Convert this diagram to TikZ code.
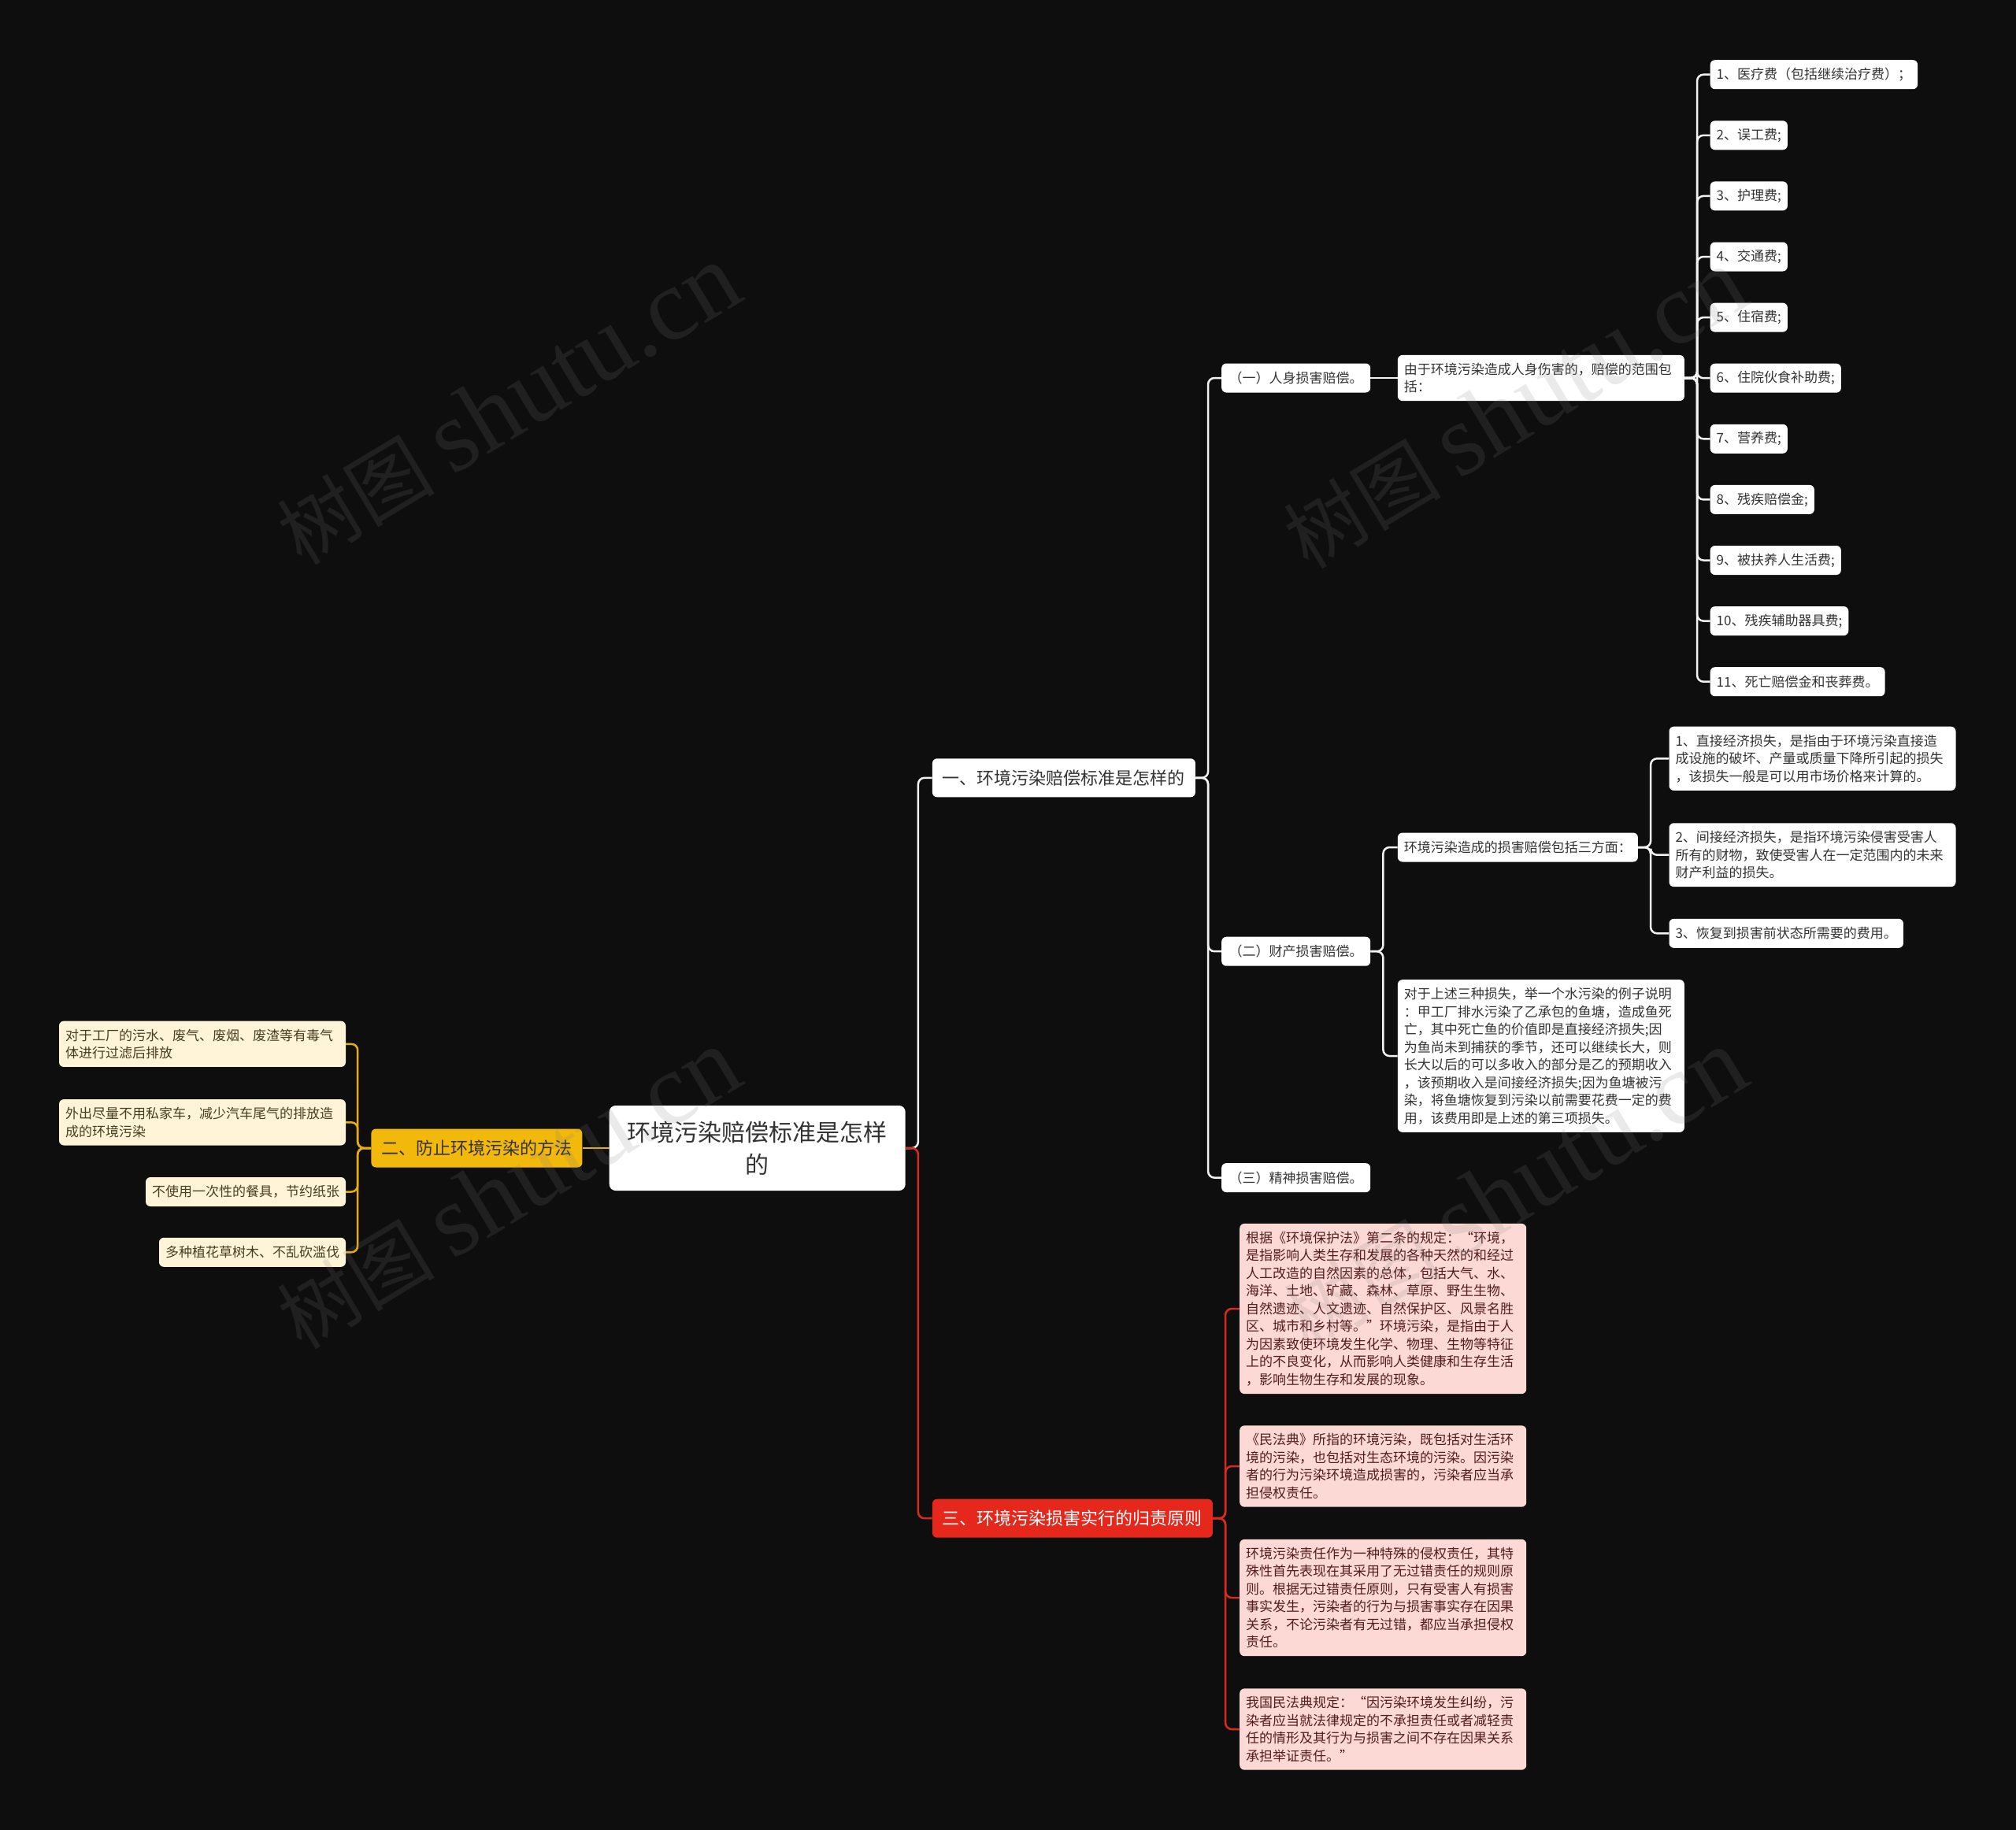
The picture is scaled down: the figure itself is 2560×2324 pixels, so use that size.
\documentclass[tikz,border=0pt]{standalone}
\usepackage{fontspec}
\setmainfont{Noto Sans CJK SC}
\newfontfamily\wmfont{Liberation Serif}
\usetikzlibrary{positioning}

\definecolor{bgdark}{HTML}{0E0E0E}
\definecolor{txtdark}{HTML}{333333}
\definecolor{linew}{HTML}{F2F2F2}
\definecolor{gold}{HTML}{F2B80C}
\definecolor{goldline}{HTML}{E8AE10}
\definecolor{cream}{HTML}{FFF3D8}
\definecolor{creamtxt}{HTML}{4A3D1F}
\definecolor{redfill}{HTML}{E5281B}
\definecolor{redline}{HTML}{D92A1E}
\definecolor{pink}{HTML}{FCD9D5}
\definecolor{pinktxt}{HTML}{521D1D}

\begin{document}
\begin{tikzpicture}[x=1pt, y=-1pt,
    base/.style={rounded corners=6pt, inner xsep=8pt, inner ysep=0pt, text=txtdark, font=\fontsize{17}{22.5}\selectfont},
    leaf/.style={base, fill=white, minimum height=37pt, anchor=west},
    note/.style={base, fill=white, text width=348pt, align=left, inner ysep=10pt, anchor=west},
    subbox/.style={leaf, inner xsep=9.5pt},
    branch/.style={rounded corners=6pt, inner xsep=13pt, minimum height=49pt, font=\fontsize{22}{26}\selectfont},
    rootbox/.style={fill=white, rounded corners=8pt, text=txtdark, align=center, minimum width=376pt, minimum height=108pt, font=\fontsize{30}{41}\selectfont},
    conn/.style={draw=linew, line width=2.5pt, rounded corners=8pt},
    connr/.style={conn, draw=redline},
    conny/.style={conn, draw=goldline},
    wm/.style={text=gray, opacity=0.16, rotate=31, font=\fontsize{100}{100}\selectfont}
]
    \useasboundingbox (0,0) rectangle (2560,2324);
    \fill[bgdark] (0,0) rectangle (2560,2324);

    % centre
    \node[rootbox] (root) at (961.7,1458) {环境污染赔偿标准是怎样\\的};

    % main branches
    \node[branch, fill=white, text=txtdark, anchor=west] (first) at (1183.7,987.8) {一、环境污染赔偿标准是怎样的};
    \node[branch, fill=gold, text=txtdark, anchor=east] (second) at (739.6,1458) {二、防止环境污染的方法};
    \node[branch, fill=redfill, text=white, anchor=west] (third) at (1183.7,1928.2) {三、环境污染损害实行的归责原则};
    \draw[conn] (root.east) -- ++(16,0) |- (first.west);
    \draw[connr] (root.east) -- ++(16,0) |- (third.west);
    \draw[conny] (root.west) -- (second.east);

    % branch one
    \node[subbox] (body) at (1551,480) {（一）人身损害赔偿。};
    \node[subbox] (property) at (1551,1208.2) {（二）财产损害赔偿。};
    \node[subbox] (mental) at (1551,1495.6) {（三）精神损害赔偿。};
    \foreach \s in {body, property, mental}
        \draw[conn] (first.east) -- ++(16,0) |- (\s.west);

    \node[note] (scope) at (1774.7,480) {由于环境污染造成人身伤害的，赔偿的范围包\\括：};
    \draw[conn] (body.east) -- (scope.west);

    \foreach \i/\t in {1/{1、医疗费（包括继续治疗费）；}, 2/{2、误工费;}, 3/{3、护理费;}, 4/{4、交通费;},
        5/{5、住宿费;}, 6/{6、住院伙食补助费;}, 7/{7、营养费;}, 8/{8、残疾赔偿金;},
        9/{9、被扶养人生活费;}, 10/{10、残疾辅助器具费;}, 11/{11、死亡赔偿金和丧葬费。}} {
        \node[leaf] (fee\i) at (2171.5,{94.7+(\i-1)*77.1}) {\t};
        \draw[conn] (scope.east) -- ++(16,0) |- (fee\i.west);
    }

    \node[leaf] (aspects) at (1774.7,1076) {环境污染造成的损害赔偿包括三方面：};
    \node[note] (example) at (1774.7,1341) {对于上述三种损失，举一个水污染的例子说明\\：甲工厂排水污染了乙承包的鱼塘，造成鱼死\\亡，其中死亡鱼的价值即是直接经济损失;因\\为鱼尚未到捕获的季节，还可以继续长大，则\\长大以后的可以多收入的部分是乙的预期收入\\，该预期收入是间接经济损失;因为鱼塘被污\\染，将鱼塘恢复到污染以前需要花费一定的费\\用，该费用即是上述的第三项损失。};
    \draw[conn] (property.east) -- ++(16,0) |- (aspects.west);
    \draw[conn] (property.east) -- ++(16,0) |- (example.west);

    \node[note] (direct) at (2119.3,963.3) {1、直接经济损失，是指由于环境污染直接造\\成设施的破坏、产量或质量下降所引起的损失\\，该损失一般是可以用市场价格来计算的。};
    \node[note] (indirect) at (2119.3,1085.7) {2、间接经济损失，是指环境污染侵害受害人\\所有的财物，致使受害人在一定范围内的未来\\财产利益的损失。};
    \node[leaf] (restore) at (2119.3,1185.3) {3、恢复到损害前状态所需要的费用。};
    \foreach \s in {direct, indirect, restore}
        \draw[conn] (aspects.east) -- ++(16,0) |- (\s.west);

    % branch two
    \node[note, fill=cream, text=creamtxt, anchor=east] (way1) at (439.2,1325.8) {对于工厂的污水、废气、废烟、废渣等有毒气\\体进行过滤后排放};
    \node[note, fill=cream, text=creamtxt, anchor=east] (way2) at (439.2,1425.3) {外出尽量不用私家车，减少汽车尾气的排放造\\成的环境污染};
    \node[leaf, fill=cream, text=creamtxt, anchor=east] (way3) at (439.2,1513.5) {不使用一次性的餐具，节约纸张};
    \node[leaf, fill=cream, text=creamtxt, anchor=east] (way4) at (439.2,1590.3) {多种植花草树木、不乱砍滥伐};
    \foreach \s in {way1, way2, way3, way4}
        \draw[conny] (second.west) -- ++(-17,0) |- (\s.east);

    % branch three
    \node[note, fill=pink, text=pinktxt] (law1) at (1574,1662) {根据《环境保护法》第二条的规定：“环境，\\是指影响人类生存和发展的各种天然的和经过\\人工改造的自然因素的总体，包括大气、水、\\海洋、土地、矿藏、森林、草原、野生生物、\\自然遗迹、人文遗迹、自然保护区、风景名胜\\区、城市和乡村等。”环境污染，是指由于人\\为因素致使环境发生化学、物理、生物等特征\\上的不良变化，从而影响人类健康和生存生活\\，影响生物生存和发展的现象。};
    \node[note, fill=pink, text=pinktxt] (law2) at (1574,1862) {《民法典》所指的环境污染，既包括对生活环\\境的污染，也包括对生态环境的污染。因污染\\者的行为污染环境造成损害的，污染者应当承\\担侵权责任。};
    \node[note, fill=pink, text=pinktxt] (law3) at (1574,2029) {环境污染责任作为一种特殊的侵权责任，其特\\殊性首先表现在其采用了无过错责任的规则原\\则。根据无过错责任原则，只有受害人有损害\\事实发生，污染者的行为与损害事实存在因果\\关系，不论污染者有无过错，都应当承担侵权\\责任。};
    \node[note, fill=pink, text=pinktxt] (law4) at (1574,2196) {我国民法典规定：“因污染环境发生纠纷，污\\染者应当就法律规定的不承担责任或者减轻责\\任的情形及其行为与损害之间不存在因果关系\\承担举证责任。”};
    \foreach \s in {law1, law2, law3, law4}
        \draw[connr] (third.east) -- ++(16,0) |- (\s.west);

    % watermarks
    \node[wm] (mark1) at (645,514) {树图 {\fontsize{130}{130}\wmfont shutu.cn}};
    \node[wm] (mark2) at (645,1510) {树图 {\fontsize{130}{130}\wmfont shutu.cn}};
    \node[wm] (mark3) at (1923,519) {树图 {\fontsize{130}{130}\wmfont shutu.cn}};
    \node[wm] (mark4) at (1923,1510) {树图 {\fontsize{130}{130}\wmfont shutu.cn}};
\end{tikzpicture}
\end{document}
